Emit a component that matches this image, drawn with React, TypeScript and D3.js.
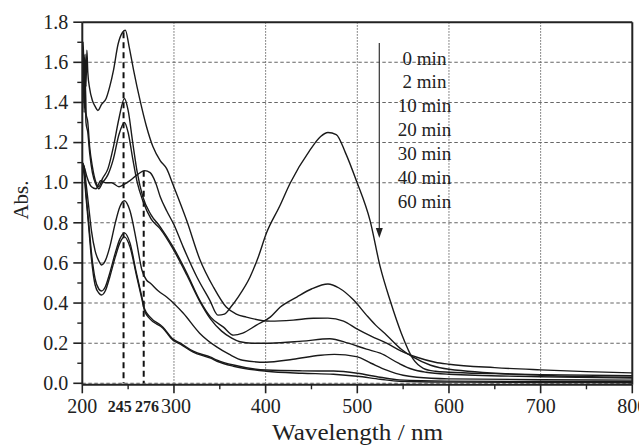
import React from "react";
import * as d3 from "d3";

type Pt = [number, number];

const legendLabels = ["0 min", "2 min", "10 min", "20 min", "30 min", "40 min", "60 min"];

const curve0: Pt[] = [[200,1.10],[202,1.08],[205,1.03],[210,0.98],[215,0.97],[220,1.01],[225,1.0],[232,1.0],[240,0.98],[245,0.99],[252,1.01],[260,1.04],[268,1.06],[274,1.05],[280,1.0],[285,0.93],[292,0.86],[300,0.79],[310,0.68],[325,0.53],[339,0.415],[348,0.34],[355,0.345],[362,0.38],[370,0.43],[383,0.53],[392,0.63],[401,0.75],[415,0.88],[427,1.0],[448,1.16],[460,1.23],[468,1.25],[477,1.24],[487,1.15],[499,1.01],[514,0.81],[525,0.58],[536,0.41],[548,0.25],[561,0.12],[572,0.075],[585,0.06],[600,0.055],[650,0.048],[700,0.043],[800,0.038]];

const curve2: Pt[] = [[200,1.55],[201,1.62],[202,1.40],[203,1.58],[204,1.35],[206,1.30],[208,1.18],[211,1.08],[215,1.0],[218,0.98],[222,1.02],[228,1.07],[234,1.18],[240,1.32],[246,1.42],[250,1.36],[255,1.2],[260,1.05],[266,0.93],[275,0.84],[285,0.78],[299,0.68],[314,0.55],[328,0.415],[340,0.33],[354,0.28],[365,0.24],[375,0.25],[390,0.29],[405,0.33],[416,0.38],[434,0.43],[450,0.47],[468,0.495],[480,0.475],[496,0.415],[510,0.34],[520,0.29],[532,0.24],[548,0.17],[561,0.13],[580,0.09],[600,0.07],[700,0.04],[800,0.03]];

const curve10: Pt[] = [[200,1.62],[201,1.70],[202,1.50],[203,1.64],[204,1.48],[205,1.66],[206,1.55],[208,1.47],[211,1.41],[214,1.38],[217,1.36],[221,1.39],[226,1.42],[230,1.48],[234,1.56],[239,1.69],[244,1.75],[247,1.76],[251,1.68],[256,1.56],[263,1.41],[270,1.28],[277,1.18],[285,1.11],[292,1.07],[299,0.99],[314,0.81],[328,0.62],[343,0.48],[357,0.38],[368,0.345],[379,0.33],[405,0.31],[430,0.315],[452,0.324],[468,0.325],[485,0.31],[500,0.27],[515,0.235],[532,0.20],[548,0.16],[565,0.13],[585,0.105],[600,0.095],[650,0.078],[700,0.067],[750,0.058],[800,0.052]];

const curve20: Pt[] = [[200,1.50],[201,1.58],[202,1.35],[203,1.52],[204,1.30],[206,1.25],[208,1.15],[211,1.05],[215,0.99],[218,0.97],[222,1.0],[228,1.04],[234,1.12],[240,1.24],[246,1.30],[250,1.25],[255,1.12],[260,1.0],[266,0.91],[275,0.82],[285,0.77],[299,0.67],[314,0.54],[328,0.41],[340,0.32],[352,0.26],[363,0.225],[372,0.207],[385,0.2],[405,0.2],[440,0.21],[470,0.222],[490,0.2],[510,0.17],[525,0.15],[545,0.1],[560,0.07],[575,0.055],[600,0.045],[700,0.033],[800,0.026]];

const curve30: Pt[] = [[200,1.10],[202,1.08],[204,1.0],[207,0.88],[210,0.76],[214,0.66],[218,0.61],[221,0.59],[225,0.61],[230,0.68],[236,0.8],[241,0.88],[246,0.91],[252,0.86],[259,0.71],[265,0.565],[270,0.515],[274,0.50],[283,0.46],[292,0.43],[310,0.35],[328,0.25],[347,0.18],[360,0.145],[375,0.115],[400,0.105],[430,0.12],[460,0.14],[475,0.144],[499,0.133],[515,0.10],[532,0.066],[550,0.04],[565,0.03],[600,0.022],[700,0.018],[800,0.016]];

const curve40: Pt[] = [[200,1.10],[202,1.06],[204,0.95],[207,0.8],[210,0.65],[214,0.52],[218,0.47],[221,0.46],[225,0.48],[230,0.55],[236,0.65],[241,0.72],[246,0.75],[252,0.70],[259,0.55],[265,0.43],[268,0.37],[274,0.33],[288,0.28],[299,0.22],[307,0.20],[321,0.16],[340,0.13],[347,0.116],[365,0.091],[401,0.066],[440,0.062],[474,0.061],[500,0.05],[525,0.03],[546,0.017],[600,0.011],[700,0.009],[800,0.008]];

const curve60: Pt[] = [[200,1.08],[202,1.04],[204,0.93],[207,0.78],[210,0.62],[214,0.49],[218,0.45],[221,0.44],[225,0.46],[230,0.53],[236,0.63],[241,0.70],[246,0.73],[252,0.68],[259,0.54],[265,0.42],[268,0.36],[274,0.32],[288,0.275],[299,0.215],[307,0.195],[321,0.155],[340,0.125],[347,0.11],[365,0.085],[401,0.06],[440,0.05],[474,0.045],[500,0.035],[525,0.02],[546,0.01],[600,0.006],[700,0.004],[800,0.003]];

const seriesList: Pt[][] = [curve0, curve2, curve10, curve20, curve30, curve40, curve60];

const xMajorTicks = [200, 300, 400, 500, 600, 700, 800];
const xMinorTicks = [250, 350, 450, 550, 650, 750];
const yMajorTicks = [0, 0.2, 0.4, 0.6, 0.8, 1.0, 1.2, 1.4, 1.6, 1.8];
const yMinorTicks = [0.1, 0.3, 0.5, 0.7, 0.9, 1.1, 1.3, 1.5, 1.7];
const xGrid = [300, 400, 500, 600, 700];
const yGrid = [0, 0.2, 0.4, 0.6, 0.8, 1.0, 1.2, 1.4, 1.6];

// marker lines: position, label, top value
const markerPos = [245, 267];
const markerLabels = ["245", "276"];
const markerTops = [1.75, 1.06];

const W = 639;
const H = 446;

export default function App() {
  const x = d3.scaleLinear().domain([200, 800]).range([82.3, 632.3]);
  const y = d3.scaleLinear().domain([0, 1.8]).range([383.3, 22.2]);
  const line = d3
    .line<Pt>()
    .x((d) => x(d[0]))
    .y((d) => y(d[1]))
    .curve(d3.curveMonotoneX);

  const font = "'Liberation Serif', 'Times New Roman', serif";
  const x0 = x(200);
  const x1 = x(800);
  const yb = y(0);
  const yt = y(1.8);

  return (
    <svg
      width={W}
      height={H}
      viewBox={`0 0 ${W} ${H}`}
      style={{ position: "absolute", left: 0, top: 0, background: "#fff" }}
      fontFamily={font}
    >
      <defs>
        <clipPath id="plot">
          <rect x={x0} y={yt} width={x1 - x0} height={yb - yt + 2} />
        </clipPath>
      </defs>
      <rect x={0} y={0} width={W} height={H} fill="#fff" />
      {yGrid.map((v) => (
        <line key={"gy" + v} x1={x0} x2={x1} y1={y(v)} y2={y(v)} stroke="#666" strokeWidth={1.1} strokeDasharray="3.5,2.5" />
      ))}
      {xGrid.map((v) => (
        <line key={"gx" + v} x1={x(v)} x2={x(v)} y1={yt} y2={yb} stroke="#666" strokeWidth={1} strokeDasharray="1.5,1.5" />
      ))}
      {markerPos.map((v, i) => (
        <line key={"m" + v} x1={x(v)} x2={x(v)} y1={y(markerTops[i])} y2={yb} stroke="#111" strokeWidth={2} strokeDasharray="6,4" />
      ))}
      <g clipPath="url(#plot)">
        {seriesList.map((s, i) => (
          <path key={"s" + i} d={line(s) || ""} fill="none" stroke="#1a1a1a" strokeWidth={1.4} strokeLinejoin="round" />
        ))}
      </g>
      <line x1={x0} x2={x1} y1={yt} y2={yt} stroke="#222" strokeWidth={2} />
      <line x1={x1} x2={x1} y1={yt} y2={yb + 1.5} stroke="#222" strokeWidth={2} />
      <line x1={x0} x2={x0} y1={yt} y2={yb + 1.5} stroke="#222" strokeWidth={2} />
      <line x1={x0} x2={x1} y1={yb + 1.5} y2={yb + 1.5} stroke="#222" strokeWidth={2} />
      {yMajorTicks.map((v) => (
        <g key={"yt" + v}>
          <line x1={x0 - 9} x2={x0} y1={y(v)} y2={y(v)} stroke="#222" strokeWidth={1.6} />
          <text x={x0 - 14} y={y(v)} dy="0.34em" textAnchor="end" fontSize={20} fill="#222">
            {v.toFixed(1)}
          </text>
        </g>
      ))}
      {yMinorTicks.map((v) => (
        <line key={"ym" + v} x1={x0 - 5} x2={x0} y1={y(v)} y2={y(v)} stroke="#222" strokeWidth={1.4} />
      ))}
      {xMajorTicks.map((v) => (
        <g key={"xt" + v}>
          <line x1={x(v)} x2={x(v)} y1={yb + 1.5} y2={yb + 10} stroke="#222" strokeWidth={1.6} />
          <text x={x(v) + (v === 300 ? 2 : 0)} y={yb + 30} textAnchor="middle" fontSize={20} fill="#222">
            {v}
          </text>
        </g>
      ))}
      {xMinorTicks.map((v) => (
        <line key={"xm" + v} x1={x(v)} x2={x(v)} y1={yb + 1.5} y2={yb + 6} stroke="#222" strokeWidth={1.4} />
      ))}
      {markerLabels.map((t, i) => (
        <text key={"ml" + t} x={x(markerPos[i]) + (i === 0 ? -3.8 : 3.2)} y={yb + 29} textAnchor="middle" fontSize={16} fontWeight="bold" fill="#222">
          {t}
        </text>
      ))}
      <text x={357.5} y={440} textAnchor="middle" fontSize={23} fill="#222" textLength={171} lengthAdjust="spacingAndGlyphs">
        Wavelength / nm
      </text>
      <text transform={`translate(28,200) rotate(-90)`} textAnchor="middle" fontSize={21} fill="#222">
        Abs.
      </text>
      {legendLabels.map((t, i) => (
        <text key={"lg" + t} x={424.5} y={64.5 + i * 23.9} textAnchor="middle" fontSize={19} fill="#222">
          {t}
        </text>
      ))}
      <line x1={379.3} x2={379.3} y1={43} y2={230} stroke="#333" strokeWidth={1.2} />
      <path d="M375.8,228 L382.8,228 L379.3,238 Z" fill="#222" />
    </svg>
  );
}
